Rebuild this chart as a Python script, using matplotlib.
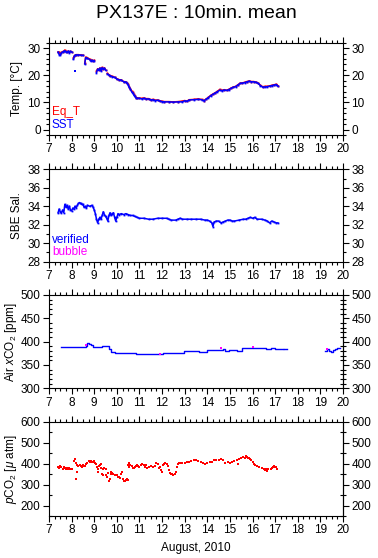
import numpy as np
import matplotlib
matplotlib.use('Agg')
import matplotlib.pyplot as plt
from matplotlib.ticker import MultipleLocator

plt.rcParams['font.family'] = ['Liberation Sans', 'DejaVu Sans']
plt.rcParams['mathtext.fontset'] = 'custom'
plt.rcParams['mathtext.rm'] = 'Liberation Sans'
plt.rcParams['mathtext.it'] = 'Liberation Sans:italic'

nan = np.nan

# ---- Temp. panel (SST, Eq_T) ----
temp_day = [7.40, 7.45, 7.50, 7.55, 7.60, 7.65, 7.70, 7.75, 7.80, 7.85, 7.90, 7.95, 8.00, 8.04,
            8.08, 8.12, 8.15, 8.20, 8.30, 8.40, 8.50, 8.54,
            8.58, 8.62, 8.70, 8.80, 8.85, 8.90, 8.95, 9.00, 9.05,
            9.10, 9.15, 9.20, 9.25, 9.30, 9.35, 9.40, 9.45, 9.50, 9.54,
            9.58, 9.65, 9.70, 9.80, 9.90, 10.00, 10.10, 10.20, 10.30, 10.40, 10.45, 10.50,
            10.55, 10.60, 10.65, 10.70, 10.75, 10.80, 10.85, 10.90, 11.00, 11.10, 11.20,
            11.30, 11.40, 11.50, 11.60, 11.70, 11.80, 11.90, 12.00, 12.10, 12.30, 12.50,
            12.70, 12.90, 13.00, 13.10, 13.20, 13.40, 13.60, 13.75, 13.85, 13.95, 14.05,
            14.15, 14.25, 14.35, 14.45, 14.55, 14.65, 14.75, 14.85, 14.95, 15.05, 15.15,
            15.25, 15.35, 15.45, 15.55, 15.65, 15.75, 15.85, 15.95, 16.05, 16.15, 16.25,
            16.35, 16.45, 16.55, 16.65, 16.75, 16.85, 16.95, 17.05, 17.12]
sst = [28.5, 27.6, 27.5, 28.3, 28.6, 28.8, 29.0, 28.7, 28.4, 28.9, 28.3, 28.8, 28.6, nan,
       26.0, 27.0, 27.3, 27.5, 27.5, 27.4, 27.3, nan,
       24.2, 26.5, 26.2, 25.8, 25.3, 25.5, 25.2, 25.4, nan,
       21.0, 22.3, 21.8, 22.6, 21.6, 22.8, 22.2, 22.6, 21.9, nan,
       20.5, 20.1, 19.8, 19.5, 19.2, 18.6, 18.3, 18.2, 17.6, 17.5, 17.0, 16.5,
       15.5, 14.8, 14.0, 13.5, 12.8, 12.2, 11.6, 11.5, 11.5, 11.3, 11.5,
       11.2, 11.3, 10.9, 11.0, 10.7, 10.8, 10.5, 10.3, 10.2, 10.2, 10.1,
       10.2, 10.2, 10.6, 10.4, 10.9, 11.0, 11.1, 11.0, 10.6, 11.2, 11.8,
       12.5, 13.0, 13.5, 14.0, 14.5, 14.3, 14.6, 14.4, 14.7, 15.2, 15.6,
       15.8, 16.4, 17.0, 17.1, 17.3, 17.6, 17.8, 17.6, 17.6, 17.4, 17.0,
       16.2, 15.6, 15.7, 15.8, 16.0, 16.2, 16.4, 16.6, 16.0]
eq_t = [28.6, 28.5, 27.8, 28.4, 28.7, 28.9, 29.3, 28.8, 28.5, 28.9, 28.5, 28.8, 28.7, nan,
        26.5, 27.1, 27.4, 27.6, 27.6, 27.5, 27.4, nan,
        24.4, 26.7, 26.4, 26.0, 25.5, 25.6, 25.3, 25.5, nan,
        21.6, 22.4, 21.9, 22.7, 21.8, 22.9, 22.3, 22.7, 22.0, nan,
        20.7, 20.2, 19.9, 19.6, 19.3, 18.7, 18.4, 18.3, 17.7, 17.6, 17.1, 16.7,
        15.7, 15.0, 14.3, 13.8, 13.0, 12.4, 11.8, 11.7, 11.6, 11.5, 11.6,
        11.4, 11.4, 11.0, 11.1, 10.8, 10.9, 10.6, 10.4, 10.3, 10.3, 10.2,
        10.3, 10.5, 10.7, 10.5, 11.0, 11.1, 11.3, 11.1, 10.7, 11.3, 11.9,
        12.6, 13.1, 13.6, 14.1, 14.8, 14.4, 14.7, 14.5, 14.8, 15.3, 15.7,
        15.9, 16.5, 17.1, 17.2, 17.4, 17.7, 17.9, 17.7, 17.7, 17.5, 17.1,
        16.3, 15.8, 15.9, 15.9, 16.1, 16.3, 16.5, 16.7, 16.2]
sst_spike_day = [8.13]
sst_spike = [21.5]

# ---- Salinity panel ----
sal_day = [7.40, 7.45, 7.50, 7.55, 7.60, 7.65, 7.70, 7.75, 7.80, 7.85, 7.90, 7.95, 8.00, 8.05,
           8.10, 8.15, 8.20, 8.25, 8.30, 8.35, 8.40, 8.45, 8.50, 8.55, 8.60, 8.65, 8.70, 8.80,
           8.90, 8.95, 9.00, 9.05, 9.10, 9.15, 9.20, 9.25, 9.30, 9.35, 9.40, 9.45, 9.50, 9.55,
           9.60, 9.65, 9.70, 9.75, 9.80, 9.85, 9.90, 9.95, 10.00, 10.05, 10.10, 10.20, 10.30,
           10.40, 10.50, 10.60, 10.70, 10.80, 10.90, 11.00, 11.20, 11.40, 11.60, 11.80, 12.00,
           12.20, 12.30, 12.40, 12.60, 12.70, 12.80, 12.90, 13.10, 13.30, 13.50, 13.70, 13.90,
           14.00, 14.10, 14.20, 14.25, 14.30, 14.40, 14.50, 14.60, 14.70, 14.80, 14.90, 15.00,
           15.10, 15.20, 15.40, 15.60, 15.70, 15.80, 15.90, 16.00, 16.10, 16.20, 16.40, 16.55,
           16.65, 16.75, 16.85, 16.95, 17.05, 17.12]
sal = [33.3, 33.7, 33.4, 33.3, 33.6, 33.3, 34.2, 33.9, 34.1, 33.7, 34.0, 33.6, 33.5, 33.8,
       33.7, 34.0, 33.8, 34.1, 34.3, 34.4, 34.3, 34.2, 34.2, 33.9, 34.0, 33.8, 34.1, 34.0,
       34.1, 33.9, 33.6, 33.2, 32.6, 32.2, 32.6, 32.8, 32.6, 33.0, 33.4, 33.1, 32.9, 32.7,
       32.4, 33.0, 33.3, 33.0, 33.2, 33.3, 32.8, 32.4, 32.8, 33.2, 33.1, 33.2, 33.1,
       33.2, 33.1, 33.0, 33.0, 32.9, 32.8, 32.7, 32.7, 32.6, 32.6, 32.7, 32.7,
       32.7, 32.6, 32.5, 32.5, 32.6, 32.7, 32.6, 32.6, 32.6, 32.6, 32.6, 32.5,
       32.5, 32.4, 32.2, 31.8, 32.3, 32.4, 32.4, 32.2, 32.3, 32.4, 32.5, 32.5,
       32.4, 32.4, 32.5, 32.6, 32.6, 32.7, 32.8, 32.7, 32.8, 32.6, 32.6, 32.5,
       32.4, 32.2, 32.4, 32.3, 32.2, 32.2]

# ---- Air xCO2 panel ----
air_day = [7.55, 8.62, 8.68, 8.78, 8.85, 8.95, 9.35, 9.65, 9.75, 9.90, 10.85, 12.05, 12.95,
           13.10, 13.65, 14.00, 14.60, 14.70, 14.80, 14.95, 15.30, 15.55, 16.45, 16.60, 16.80,
           17.00, 17.20, 17.33, 17.40, 17.52, 19.20, 19.30, 19.40, 19.45, 19.55, 19.65, 19.75,
           19.85]
air = [388, 391, 397, 395, 392, 389, 391, 384, 378, 376, 374, 376, 379,
       380, 378, 382, 383, 384, 381, 382, 380, 387, 386, 385, 387,
       385, 384, nan, 384, nan, 381, 384, 380, 377, 382, 385, 386,
       386]
bubble_day = [8.65, 11.90, 14.62, 16.00, 19.30]
bubble = [392, 374, 386, 388, 384]

# ---- pCO2 panel ----
pco2_day = [7.40, 7.45, 7.50, 7.55, 7.60, 7.65, 7.70, 7.75, 7.80, 7.85, 7.90, 7.95, 8.00, 8.10,
            8.15, 8.18, 8.20, 8.22, 8.25, 8.30, 8.35, 8.40, 8.45, 8.50, 8.55, 8.60, 8.65, 8.70,
            8.75, 8.80, 8.85, 8.90, 8.95, 9.00, 9.05, 9.10, 9.12, 9.15, 9.18, 9.20, 9.25, 9.30,
            9.32, 9.35, 9.38, 9.40, 9.45, 9.50, 9.52, 9.55, 9.60, 9.65, 9.68, 9.72, 9.75, 9.80,
            9.85, 9.90, 9.95, 10.00, 10.05, 10.10, 10.15, 10.20, 10.22, 10.25, 10.30, 10.35,
            10.40, 10.45, 10.48, 10.50, 10.52, 10.55, 10.60, 10.65, 10.70, 10.75, 10.80, 10.85,
            10.90, 10.95, 11.00, 11.05, 11.10, 11.20, 11.25, 11.30, 11.35, 11.40, 11.50, 11.60,
            11.70, 11.75, 11.80, 11.85, 11.90, 11.95, 12.00, 12.05, 12.10, 12.15, 12.20, 12.25,
            12.30, 12.35, 12.40, 12.45, 12.50, 12.55, 12.60, 12.65, 12.70, 12.75, 12.80, 12.90,
            13.00, 13.10, 13.20, 13.30, 13.40, 13.50, 13.60, 13.70, 13.80, 13.90, 14.00, 14.10,
            14.20, 14.30, 14.40, 14.50, 14.60, 14.70, 14.80, 14.90, 15.00, 15.10, 15.20, 15.30,
            15.35, 15.40, 15.50, 15.60, 15.65, 15.70, 15.75, 15.80, 15.85, 15.90, 15.95, 16.00,
            16.05, 16.10, 16.20, 16.30, 16.40, 16.50, 16.55, 16.60, 16.65, 16.70, 16.80, 16.85,
            16.90, 16.95, 17.00, 17.05, 17.10]
pco2 = [385, 378, 390, 382, 375, 385, 378, 372, 380, 376, 378, 375, 375, 412,
        420, 405, 325, 360, 392, 388, 395, 390, 385, 392, 388, 390, 400, 405,
        412, 410, 414, 410, 408, 412, 405, 400, 385, 375, 360, 390, 395, 400,
        380, 352, 345, 375, 380, 372, 345, 338, 355, 318, 325, 350, 360, 355,
        352, 345, 348, 345, 338, 335, 330, 352, 360, 325, 315, 318,
        320, 325, 320, 395, 405, 385, 395, 388, 380, 378, 385, 390,
        395, 390, 385, 392, 398, 395, 385, 392, 380, 385, 390, 385,
        388, 405, 400, 378, 385, 370, 360, 395, 400, 405, 398, 390,
        370, 355, 350, 352, 348, 350, 362, 385, 400, 402, 405, 402,
        405, 408, 410, 412, 415, 415, 412, 408, 405, 400, 402, 408,
        410, 415, 418, 418, 420, 415, 405, 408, 405, 410, 412, 418,
        398, 420, 425, 432, 428, 435, 430, 425, 428, 420, 418, 410,
        400, 395, 388, 382, 380, 372, 368, 375, 365, 372, 375, 380,
        385, 388, 385, 382, 372]

BLUE = '#0000ff'
RED = '#ff0000'
MAG = '#ff00ff'

fig = plt.figure(figsize=(3.78, 5.58), dpi=100)
left, width = 49 / 378, 294 / 378
panels = [(42.7, 135.0), (169.3, 261.7), (295.0, 388.3), (421.7, 516.0)]
axes = []
for top, bot in panels:
    ax = fig.add_axes([left, 1 - bot / 558, width, (bot - top) / 558])
    axes.append(ax)
ax1, ax2, ax3, ax4 = axes

fs = 8.5
ylims = [(-2, 32), (28, 38), (300, 500), (150, 600)]
ymaj = [10, 2, 50, 100]
ymin = [2, 1, 10, 50]
for i, (ax, yl, mj, mn) in enumerate(zip(axes, ylims, ymaj, ymin)):
    ax.set_xlim(7, 20)
    ax.set_ylim(*yl)
    ax.xaxis.set_major_locator(MultipleLocator(1))
    ax.xaxis.set_minor_locator(MultipleLocator(0.25))
    ax.yaxis.set_major_locator(MultipleLocator(mj))
    ax.yaxis.set_minor_locator(MultipleLocator(mn))
    ax.tick_params(which='both', direction='out', top=True, right=True,
                   labelright=True, labelsize=fs, width=0.8, pad=2)
    ax.tick_params(which='major', length=4)
    ax.tick_params(which='minor', length=2.2)
    for s in ax.spines.values():
        s.set_linewidth(0.8)
    if i >= 2:
        # lower panels: left minor ticks point inwards, right side stays outward
        ax.tick_params(axis='y', right=False, labelright=False)
        ax.tick_params(axis='y', which='minor', direction='in')
        sec = ax.secondary_yaxis('right')
        sec.yaxis.set_major_locator(MultipleLocator(mj))
        sec.yaxis.set_minor_locator(MultipleLocator(mn))
        sec.tick_params(which='both', direction='out', labelsize=fs, width=0.8, pad=2)
        sec.tick_params(which='major', length=4)
        sec.tick_params(which='minor', length=2.2)
        sec.spines['right'].set_linewidth(0.8)
        if i == 3:
            sec.set_yticks([200, 300, 400, 500, 600])
ax4.set_yticks([200, 300, 400, 500, 600])

# Temp
ax1.plot(temp_day, eq_t, color=RED, lw=1.1, marker='s', ms=1.3, mew=0)
ax1.plot(temp_day, sst, color=BLUE, lw=1.1, marker='s', ms=1.3, mew=0)
ax1.plot(sst_spike_day, sst_spike, 's', color=BLUE, ms=1.6, mew=0)
ax1.set_ylabel('Temp. [°C]', fontsize=fs, labelpad=3)
ax1.text(0.01, 0.244, 'Eq_T', color=RED, transform=ax1.transAxes, fontsize=fs, va='center')
ax1.text(0.01, 0.103, 'SST', color=BLUE, transform=ax1.transAxes, fontsize=fs, va='center')

# Salinity
ax2.plot(sal_day, sal, color=BLUE, lw=1.1, marker='s', ms=1.3, mew=0)
ax2.set_ylabel('SBE Sal.', fontsize=fs, labelpad=3)
ax2.text(0.01, 0.235, 'verified', color=BLUE, transform=ax2.transAxes, fontsize=fs, va='center')
ax2.text(0.01, 0.105, 'bubble', color=MAG, transform=ax2.transAxes, fontsize=fs, va='center')

# Air xCO2
ax3.plot(air_day, air, color=BLUE, lw=1.0, drawstyle='steps-post')
ax3.plot(bubble_day, bubble, 's', color=MAG, ms=1.8, mew=0)
ax3.set_ylabel(r'Air $x$CO$_2$ [ppm]', fontsize=fs, labelpad=1)

# pCO2
ax4.plot(pco2_day, pco2, 's', color=RED, ms=2.0, mew=0)
ax4.set_ylabel(r'$p$CO$_2$ [$\mu$ atm]', fontsize=fs, labelpad=1)
ax4.set_xlabel('August, 2010', fontsize=fs, labelpad=4)

fig.text(0.52, 0.975, 'PX137E : 10min. mean', ha='center', va='center', fontsize=14)

fig.savefig('out.png', dpi=100)
